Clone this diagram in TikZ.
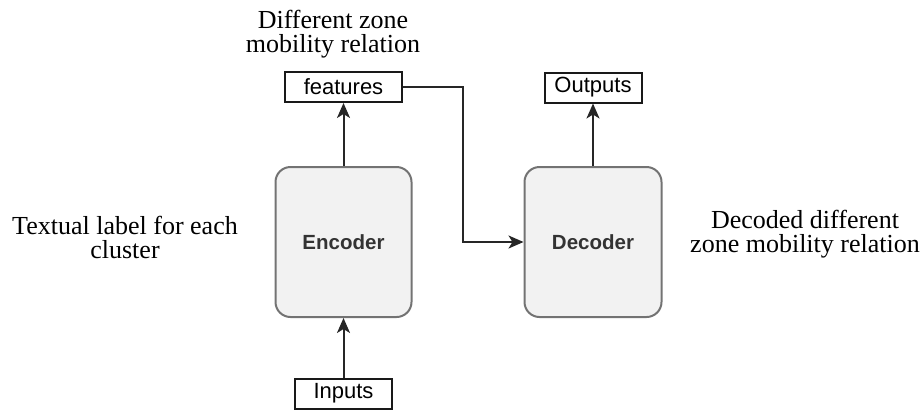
\documentclass[tikz,border=0pt]{standalone}
\usepackage{fontspec}
\setmainfont{Liberation Serif}
\setsansfont{Liberation Sans}
\usetikzlibrary{arrows.meta}

\tikzset{
    block/.style={draw=black!55, fill=black!5, line width=2pt, rounded corners=15pt,
        minimum width=136pt, minimum height=150pt, font=\sffamily\bfseries\fontsize{20.5}{24}\selectfont, text=black!80},
    port/.style={draw=black!90, line width=2pt, minimum height=30pt, inner sep=0pt,
        font=\sffamily\fontsize{22}{26}\selectfont},
    note/.style={align=center, font=\fontsize{26}{24}\selectfont},
    arr/.style={draw=black!85, line width=2pt, -{Stealth[length=15pt, width=13pt, inset=4pt]}}
}

\begin{document}
\begin{tikzpicture}[x=1pt, y=-1pt]
    \useasboundingbox (0, 0) rectangle (923, 410);

    % Nodes
    \node[port, minimum width=117pt] (features) at (343.5, 87) {features};
    \node[port, minimum width=97pt] (outputs) at (593, 87.5) {Outputs};
    \node[port, minimum width=97pt] (inputs) at (343.5, 393.5) {Inputs};
    \node[block] (encoder) at (343.5, 242) {Encoder};
    \node[block, minimum width=137pt] (decoder) at (593, 242) {Decoder};
    \coordinate (bend) at (463, 242);

    % Labels
    \node[note] (zonerel) at (333, 34) {Different zone\\mobility relation};
    \node[note] (textlabel) at (125, 237) {Textual label for each\\cluster};
    \node[note] (decodedrel) at (805, 234) {Decoded different\\zone mobility relation};

    % Edges
    \draw[arr] (inputs) -- (encoder);
    \draw[arr] (encoder) -- (features);
    \draw[arr] (features.east) -| (bend) -- (decoder.west);
    \draw[arr] (decoder) -- (outputs);
\end{tikzpicture}
\end{document}
